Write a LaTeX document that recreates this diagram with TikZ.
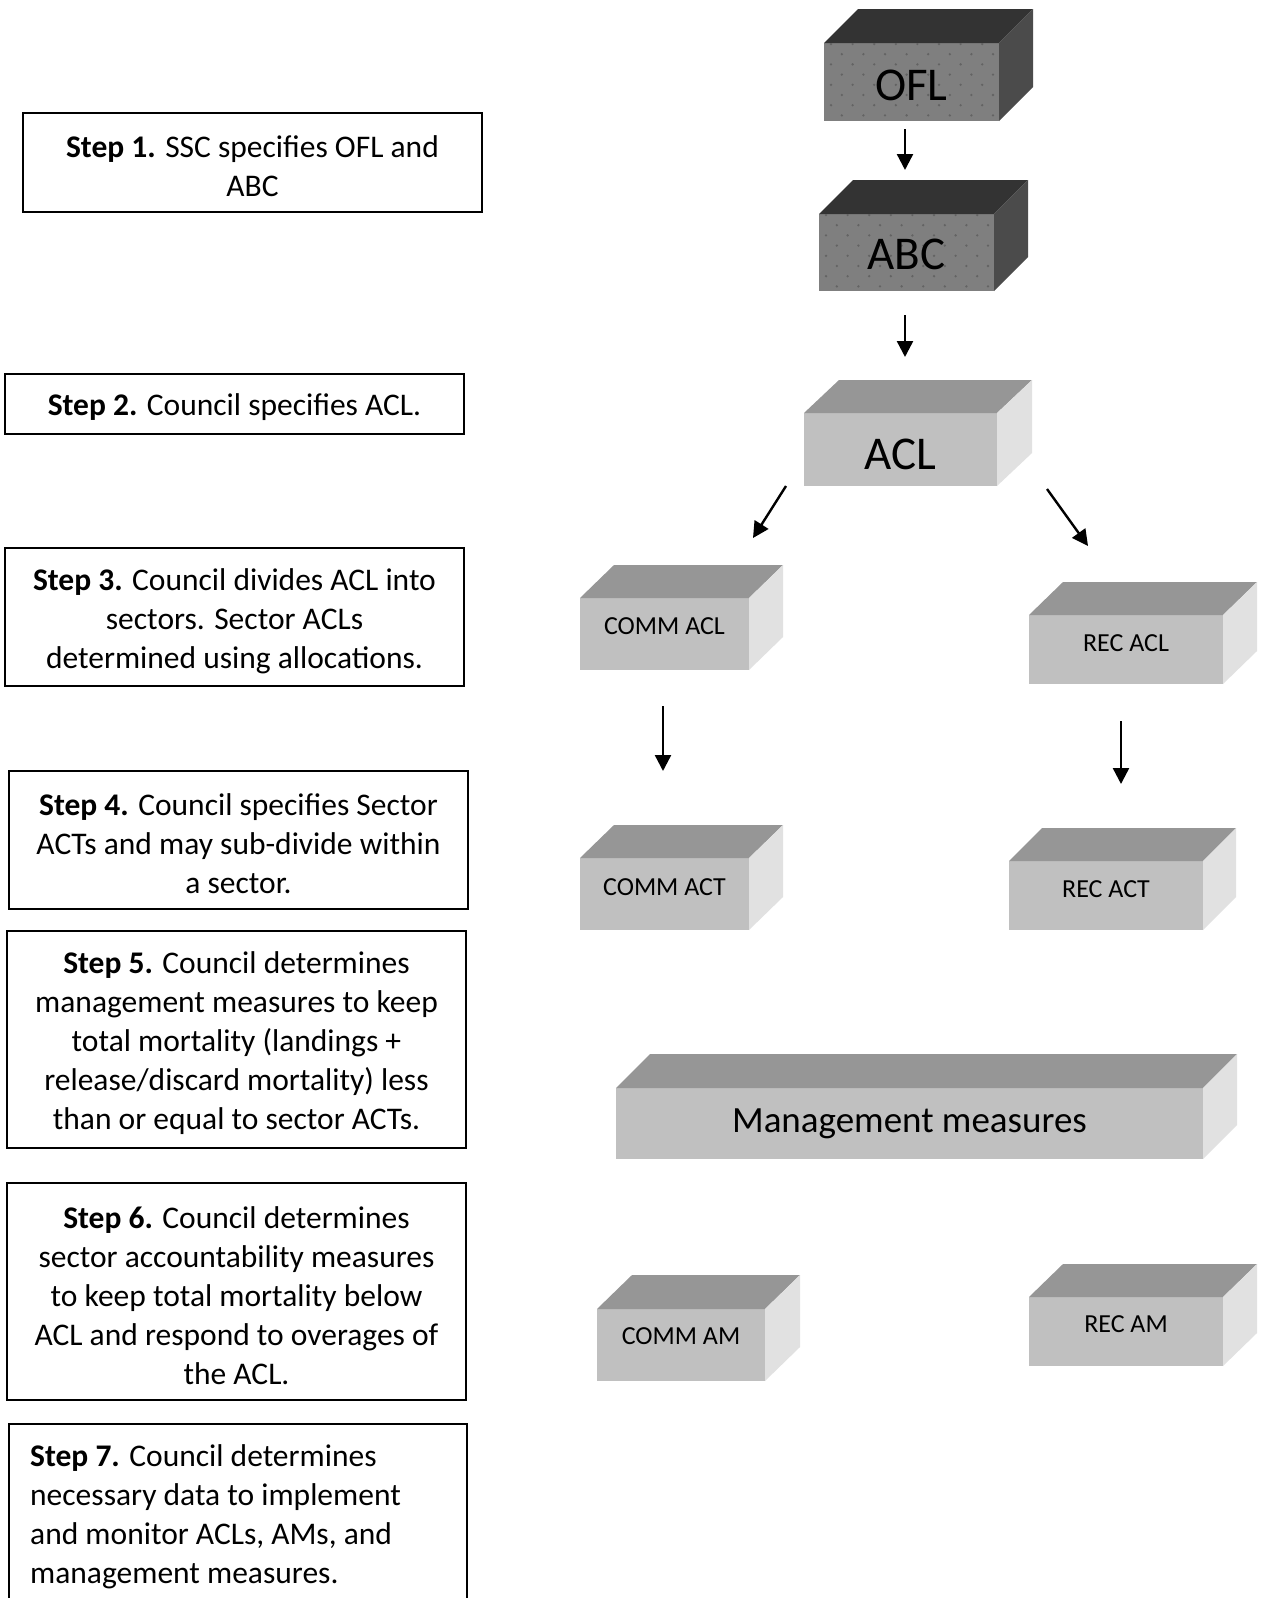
\documentclass[tikz,border=0pt]{standalone}
\usepackage{fontspec}
\setmainfont{Carlito}
\usetikzlibrary{arrows.meta}
\definecolor{dkfront}{HTML}{7F7F7F}
\definecolor{dktop}{HTML}{333333}
\definecolor{dkside}{HTML}{4B4B4B}
\definecolor{dkdot}{HTML}{636363}
\definecolor{ltfront}{HTML}{C0C0C0}
\definecolor{lttop}{HTML}{969696}
\definecolor{ltside}{HTML}{E1E1E1}
\tikzset{
  dkfront/.style={fill=dkfront},
  dktop/.style={fill=dktop},
  dkside/.style={fill=dkside},
  ltfront/.style={fill=ltfront},
  lttop/.style={fill=lttop},
  ltside/.style={fill=ltside},
  face/.style={rectangle, draw=none, inner sep=0pt, outer sep=0pt},
  stepbox/.style={rectangle, draw=black, line width=2pt, inner sep=0pt, outer sep=0pt},
  steptext/.style={align=center, inner sep=0pt, font=\fontsize{31.5}{39}\selectfont},
  bigtxt/.style={font=\fontsize{47}{50}\selectfont, inner sep=0pt},
  midtxt/.style={font=\fontsize{37}{40}\selectfont, inner sep=0pt},
  smalltxt/.style={font=\fontsize{26}{30}\selectfont, inner sep=0pt},
  arr/.style={line width=2.4pt, -{Triangle[length=16pt,width=16pt]}}
}
% name, x1, y1, x2, y2, depth x, depth y, kind (dk/lt)
\newcommand{\boxthreed}[8]{%
  \node[face, #8front, minimum width={#4-#2}, minimum height={#5-#3}] (#1) at ({(#2+#4)/2},{(#3+#5)/2}) {};
  \fill[#8top] (#1.north west) -- ++(#6,-#7) -- ++({#4-#2},0) -- (#1.north east) -- cycle;
  \fill[#8side] (#1.north east) -- ++(#6,-#7) -- ++(0,{#5-#3}) -- (#1.south east) -- cycle;
}
\newcommand{\dotgrid}[3]{% name, x1, y1
  \begin{scope}
    \clip (#1.south west) rectangle (#1.north east);
    \foreach \r in {0,...,8}{\foreach \c in {0,...,8}{
      \fill[dkdot] ({#2+7+21.6*\c+10.8*mod(\r,2)},{#3+1+10.2*\r}) circle (1.3);
    }}
  \end{scope}
}
\begin{document}
\begin{tikzpicture}[x=1pt,y=-1pt]
\useasboundingbox (0,0) rectangle (1266,1598);
\fill[white] (0,0) rectangle (1266,1598);

% ---- 3D boxes ----
\boxthreed{ofl}{824}{43}{999}{121}{34}{34}{dk}
\dotgrid{ofl}{824}{43}
\node[bigtxt] (ofltxt) at ([yshift=-3pt]ofl.center) {OFL};

\boxthreed{abc}{819}{214}{994}{291}{34}{34}{dk}
\dotgrid{abc}{819}{214}
\node[bigtxt] (abctxt) at ([yshift=-2pt]abc.center) {ABC};

\boxthreed{acl}{804}{413}{997}{486}{35}{33}{lt}
\node[bigtxt] (acltxt) at ([yshift=-5pt]acl.center) {ACL};

\boxthreed{commacl}{580}{598}{749}{670}{34}{33}{lt}
\node[smalltxt] (commacltxt) at ([yshift=8pt]commacl.center) {COMM ACL};

\boxthreed{recacl}{1029}{615}{1223}{684}{34}{33}{lt}
\node[smalltxt] (recacltxt) at ([yshift=6pt]recacl.center) {REC ACL};

\boxthreed{commact}{580}{858}{749}{930}{34}{33}{lt}
\node[smalltxt] (commacttxt) at ([yshift=7pt]commact.center) {COMM ACT};

\boxthreed{recact}{1009}{861}{1203}{930}{33}{33}{lt}
\node[smalltxt] (recacttxt) at ([yshift=6pt]recact.center) {REC ACT};

\boxthreed{mgmt}{616}{1088}{1203}{1159}{34}{34}{lt}
\node[midtxt] (mgmttxt) at (mgmt.center) {Management measures};

\boxthreed{commam}{597}{1309}{765}{1381}{35}{34}{lt}
\node[smalltxt] (commamtxt) at ([yshift=9pt]commam.center) {COMM AM};

\boxthreed{recam}{1029}{1297}{1223}{1366}{34}{33}{lt}
\node[smalltxt] (recamtxt) at ([yshift=7pt]recam.center) {REC AM};

% ---- arrows ----
\coordinate (a1s) at (905,129); \coordinate (a1e) at (905,170);
\coordinate (a2s) at (905,315); \coordinate (a2e) at (905,357);
\coordinate (a3s) at (786,486); \coordinate (a3e) at (753,538);
\coordinate (a4s) at (1047,489); \coordinate (a4e) at (1088,546);
\coordinate (a5s) at (663,706); \coordinate (a5e) at (663,771);
\coordinate (a6s) at (1121,721); \coordinate (a6e) at (1121,784);
\draw[arr] (a1s) -- (a1e);
\draw[arr] (a2s) -- (a2e);
\draw[arr] (a3s) -- (a3e);
\draw[arr] (a4s) -- (a4e);
\draw[arr] (a5s) -- (a5e);
\draw[arr] (a6s) -- (a6e);

% ---- step boxes ----
\node[stepbox, minimum width=459, minimum height=99] (step1) at (252.5,162.5) {};
\node[steptext] (step1txt) at ([yshift=-4pt]step1.center)
  {\textbf{Step 1.} SSC specifies OFL and\\ABC};
\node[stepbox, minimum width=459, minimum height=60] (step2) at (234.5,403.5) {};
\node[steptext] (step2txt) at ([yshift=-4pt]step2.center)
  {\textbf{Step 2.} Council specifies ACL.};
\node[stepbox, minimum width=459, minimum height=138] (step3) at (234.5,617) {};
\node[steptext] (step3txt) at ([yshift=-4pt]step3.center)
  {\textbf{Step 3.} Council divides ACL into\\sectors. Sector ACLs\\determined using allocations.};
\node[stepbox, minimum width=459, minimum height=138] (step4) at (238.5,840) {};
\node[steptext] (step4txt) at ([yshift=-4pt]step4.center)
  {\textbf{Step 4.} Council specifies Sector\\ACTs and may sub-divide within\\a sector.};
\node[stepbox, minimum width=459, minimum height=217] (step5) at (236.5,1039.5) {};
\node[steptext] (step5txt) at ([yshift=-4pt]step5.center)
  {\textbf{Step 5.} Council determines\\management measures to keep\\total mortality (landings +\\release/discard mortality) less\\than or equal to sector ACTs.};
\node[stepbox, minimum width=459, minimum height=217] (step6) at (236.5,1291.5) {};
\node[steptext] (step6txt) at ([yshift=-4pt]step6.center)
  {\textbf{Step 6.} Council determines\\sector accountability measures\\to keep total mortality below\\ACL and respond to overages of\\the ACL.};
\node[face, minimum width=458, minimum height=174] (step7) at (238,1511) {};
\draw[line width=2pt] (step7.south west) -- (step7.north west) -- (step7.north east) -- (step7.south east);
\node[align=left, anchor=north west, inner sep=0pt, font=\fontsize{31.5}{39}\selectfont] (step7txt) at (30,1444)
  {\textbf{Step 7.} Council determines\\necessary data to implement\\and monitor ACLs, AMs, and\\management measures.};
\end{tikzpicture}
\end{document}
